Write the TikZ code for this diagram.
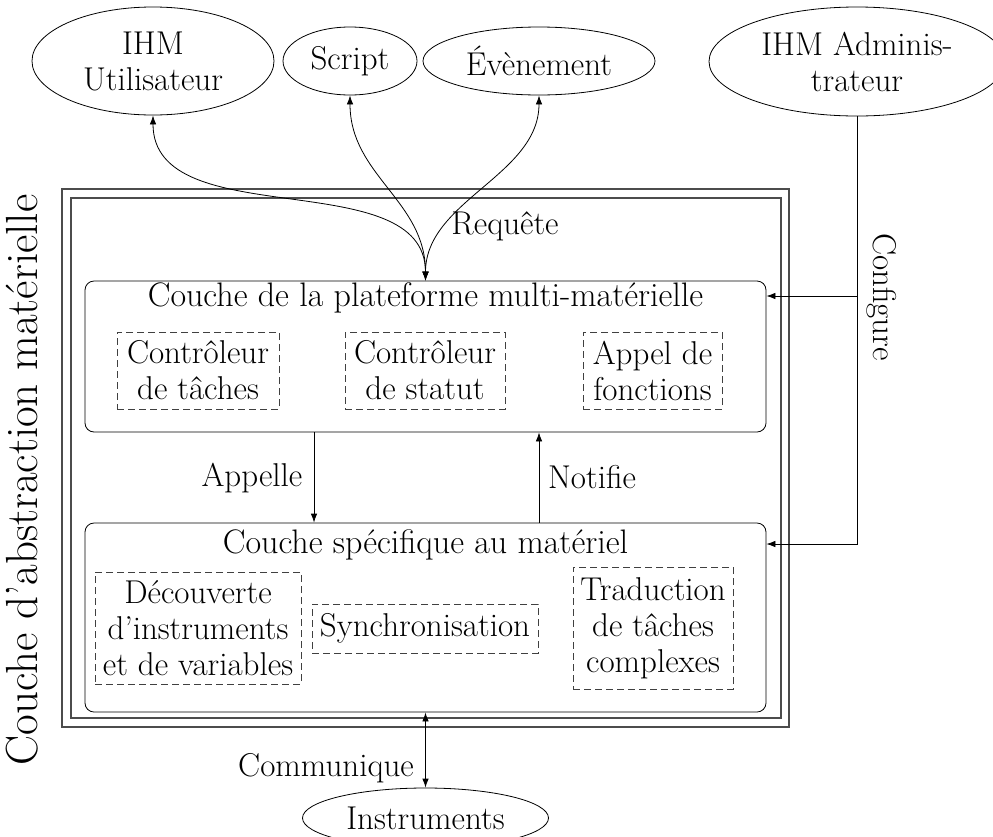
\documentclass[tikz,border=0pt]{standalone}
\usepackage{fontspec}
\usetikzlibrary{arrows.meta,shapes.geometric}
\begin{document}
\begin{tikzpicture}[x=1pt,y=-1pt,
  >={Latex[length=9pt,width=6.5pt]},
  every node/.style={font=\fontsize{33}{36}\selectfont, inner sep=0pt, align=center},
  oval/.style={ellipse, draw, line width=0.8pt},
  layer/.style={draw, rounded corners=9pt, line width=0.8pt},
  part/.style={draw=black!75, dash pattern=on 7pt off 4pt, line width=0.8pt},
  frame/.style={draw=black!70, line width=1.3pt},
  link/.style={line width=0.8pt}]
\useasboundingbox (0,0) rectangle (993,836);

% top ellipses
\node[oval, minimum width=242pt, minimum height=108pt] (ihmU) at (153,61) {IHM\\Utilisateur};
\node[oval, minimum width=134pt, minimum height=68pt] (script) at (350,61) {Script};
\node[oval, minimum width=232pt, minimum height=68pt] (event) at (539,61) {Évènement};
\node[oval, minimum width=296pt, minimum height=109pt] (ihmA) at (857,61.5) {IHM Adminis-\\trateur};

% double frame
\node[frame, minimum width=727pt, minimum height=538pt] (outer) at (425.5,458) {};
\node[frame, minimum width=710pt, minimum height=520pt] (inner) at (426,458) {};
\node[rotate=90, font=\fontsize{45}{50}\selectfont] (abs) at (22,480) {Couche d’abstraction matérielle};

% upper layer
\node[layer, minimum width=681pt, minimum height=151pt] (plat) at (425.5,356.5) {};
\node[anchor=base, font=\fontsize{34}{36}\selectfont] (platT) at (425.5,306) {Couche de la plateforme multi-matérielle};
\node[part, minimum width=162pt, minimum height=77pt] (ctrlT) at (198,370.5) {Contrôleur\\de tâches};
\node[part, minimum width=160pt, minimum height=77pt] (ctrlS) at (425,370.5) {Contrôleur\\de statut};
\node[part, minimum width=139pt, minimum height=77pt] (appel) at (652.5,370.5) {Appel de\\fonctions};

% lower layer
\node[layer, minimum width=681pt, minimum height=189pt] (spec) at (425.5,617.5) {};
\node[anchor=base, font=\fontsize{34}{36}\selectfont] (specT) at (425.5,553) {Couche spécifique au matériel};
\node[part, minimum width=206pt, minimum height=112pt] (decouv) at (198,628) {Découverte\\d’instruments\\et de variables};
\node[part, minimum width=226pt, minimum height=49pt] (sync) at (425,628.5) {Synchronisation};
\node[part, minimum width=160pt, minimum height=122pt] (trad) at (653,628) {Traduction\\de tâches\\complexes};

% instruments
\node[oval, minimum width=246pt, minimum height=60pt] (instr) at (425.5,818) {Instruments};

% Requête arrows
\draw[link,<->] (ihmU.south) .. controls +(0,120) and +(0,-118) .. (plat.north);
\draw[link,<->] (script.south) .. controls +(0,80) and +(0,-80) .. (plat.north);
\draw[link,<->] (event.south) .. controls +(0,80) and +(0,-80) .. (plat.north);
\node[anchor=base] (req) at (505,234) {Requête};

% Configure
\coordinate (c1) at (857,296);
\coordinate (c2) at (857,544);
\draw[link,->] (ihmA.south) -- (c1) -- (c1 -| plat.east);
\draw[link,->] (c1) -- (c2) -- (c2 -| spec.east);
\node[rotate=-90] (conf) at (882,297) {Configure};

% Appelle / Notifie
\draw[link,->] ([xshift=-111.5pt]plat.south) -- ([xshift=-111.5pt]spec.north);
\node[anchor=base] (app) at (252,486) {Appelle};
\draw[link,->] ([xshift=113.5pt]spec.north) -- ([xshift=113.5pt]plat.south);
\node[anchor=base] (notif) at (592,488) {Notifie};

% Communique
\draw[link,<->] (spec.south) -- (instr.north);
\node[anchor=base] (comm) at (326,776) {Communique};
\end{tikzpicture}
\end{document}
